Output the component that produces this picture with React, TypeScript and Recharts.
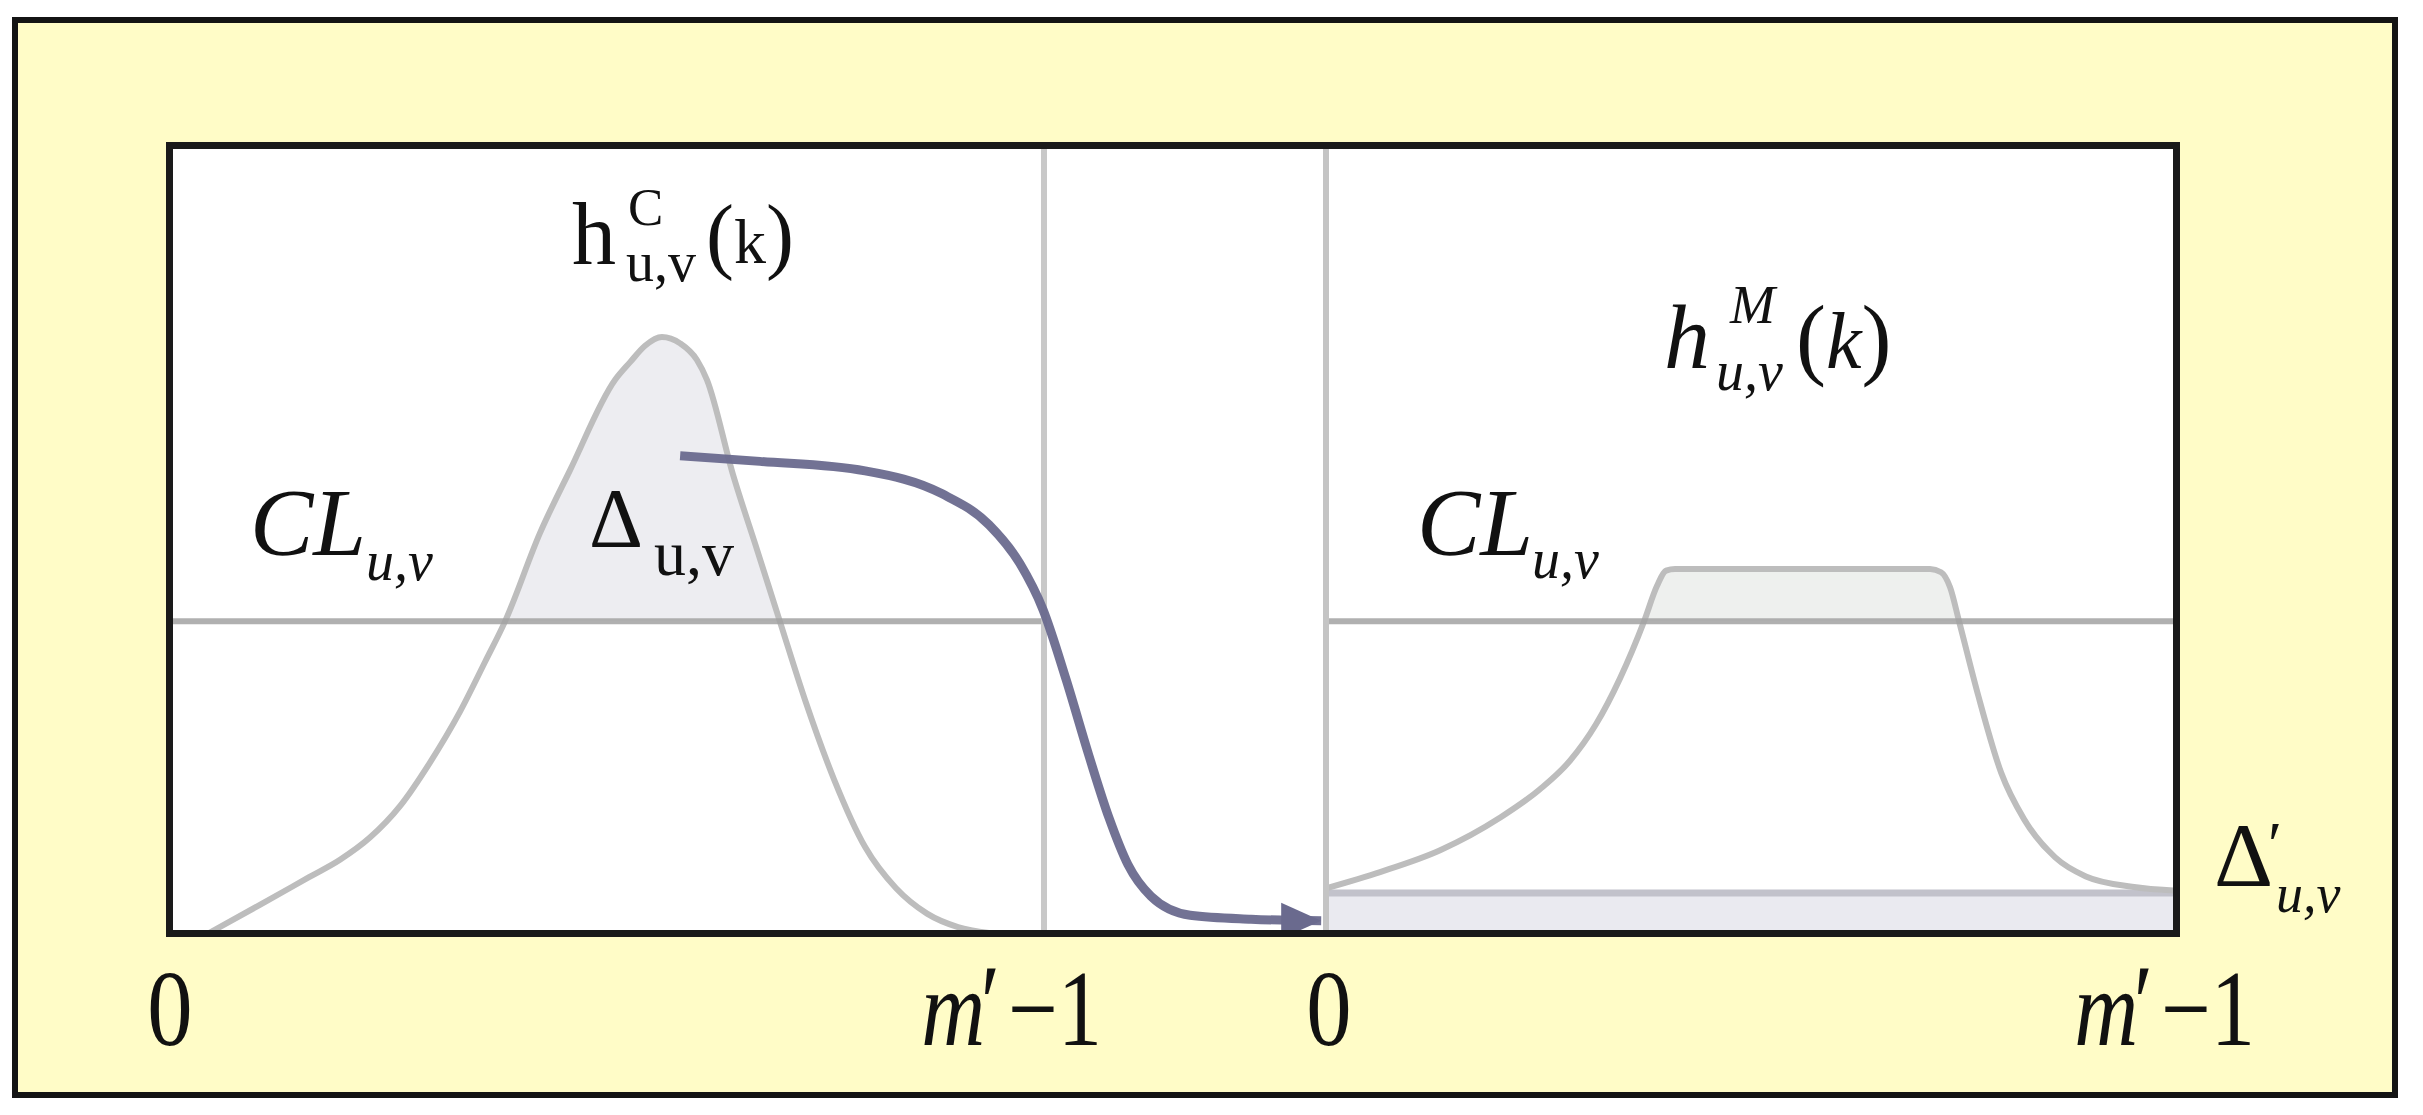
import React from 'react';
import { ComposedChart, Line, Area, XAxis, YAxis, ReferenceLine } from 'recharts';

// histogram values (k = bin index, h = height, 0..100 scale)
const CL_LEVEL = 39.6;
const BIN_MAX = 255;
const TICKS = [0, 255];
const TICK_LABELS = ['0', 'm′−1'];

const leftK = [12.2, 27.0, 41.3, 50.3, 59.0, 67.8, 76.5, 85.2, 92.5, 98.3, 108.5, 117.2, 130.3, 134.6, 139.0, 143.9, 149.2, 154.1, 157.0, 164.6, 171.6, 178.2, 185.5, 194.0, 203.0, 212.0, 221.0, 230.0, 239.0];
const leftH = [0.25, 3.8, 7.3, 9.5, 12.3, 16.3, 21.8, 28.2, 34.5, 39.6, 50.8, 58.7, 70.1, 72.3, 74.4, 75.5, 74.7, 72.6, 70.1, 58.1, 48.6, 39.6, 29.7, 19.6, 11.1, 5.9, 2.7, 1.0, 0.25];

const rightK = [0, 16.2, 34.2, 52.1, 64.1, 73.1, 80.9, 88.1, 95.3, 99.2, 101.9, 104.6, 142.0, 181.0, 184.3, 187.0, 189.7, 195.4, 202.3, 209.2, 218.5, 227.7, 241.5, 255];
const rightH = [5.9, 7.95, 10.7, 14.8, 18.4, 22.0, 26.6, 32.4, 39.6, 44.1, 46.0, 46.2, 46.2, 46.2, 45.8, 43.9, 39.6, 30.3, 20.5, 14.6, 9.8, 7.4, 6.1, 5.6];

const spreadK = [0, 255];
const spreadH = [5.3, 5.3];

// arrow path, in the left panel's units
const arrowK = [149.2, 172.4, 203.0, 225.4, 239.0, 248.0, 254.7, 261.4, 268.1, 273.9, 279.4, 286.1, 297.5, 315.2, 335.6];
const arrowH = [60.5, 59.8, 58.6, 55.7, 51.8, 46.9, 41.1, 32.3, 22.6, 14.8, 8.9, 4.9, 2.5, 2.0, 1.8];

const toPts = (ks: number[], hs: number[]) => ks.map((k, i) => ({ k, h: hs[i] }));
const excess = (pts: { k: number; h: number }[]) =>
  pts.filter((p) => p.h >= CL_LEVEL).map((p) => ({ k: p.k, band: [CL_LEVEL, p.h] }));

const leftCurve = toPts(leftK, leftH);
const rightCurve = toPts(rightK, rightH);
const spread = toPts(spreadK, spreadH);
const arrowPts = toPts(arrowK, arrowH);

const SERIF = '"Liberation Serif", "Times New Roman", serif';
const INK = '#111';
const CURVE = '#bdbdbd';
const LINE_GRAY = '#a2a2a2';
const FILL = '#ededf1';
const ARROW = '#6a6a8e';

const PLOT_H = 792;
const AXIS_H = 125;

const AxisTick = ({ x, y, payload, shift }: any) => {
  const idx = TICKS.indexOf(payload.value);
  const label = TICK_LABELS[idx];
  if (idx === 0) {
    return (
      <text transform={`translate(${x + 3},${y + 110}) scale(0.84,1)`} textAnchor="middle" fontSize={108} fontFamily={SERIF} fill={INK}>
        {label}
      </text>
    );
  }
  return (
    <text transform={`translate(${x + shift},${y + 110}) scale(0.82,1)`} textAnchor="end" fontSize={108} fontFamily={SERIF} fill={INK}>
      <tspan fontStyle="italic">m</tspan>
      <tspan dx={-12} dy={-6} fontStyle="italic">′</tspan>
      <tspan dx={16} dy={6}>−1</tspan>
    </text>
  );
};

const ArrowDot = (props: any) => {
  const { cx, cy, index } = props;
  if (index !== arrowPts.length - 1) return <g key={`d${index}`} />;
  return <polygon key={`d${index}`} points={`${cx},${cy} ${cx - 40},${cy - 18} ${cx - 40},${cy + 18}`} fill={ARROW} />;
};

const Sub = ({ x, y, size, italic, children }: any) => (
  <text x={x} y={y} fontSize={size} fontFamily={SERIF} fontStyle={italic ? 'italic' : 'normal'} fill={INK}>
    {children}
  </text>
);

const Labels = () => (
  <svg width={2423} height={1115} style={{ position: 'absolute', left: 0, top: 0, pointerEvents: 'none' }}>
    {/* h^C_{u,v}(k) */}
    <Sub x={572} y={264} size={88}>h</Sub>
    <Sub x={628} y={225} size={53}>C</Sub>
    <Sub x={626} y={281} size={56}>u,v</Sub>
    <text x={706} y={263} fontSize={84} fontFamily={SERIF} fill={INK}>
      (<tspan fontSize={64}>k</tspan>)
    </text>

    {/* h^M_{u,v}(k) */}
    <Sub x={1664} y={368} size={92} italic>h</Sub>
    <Sub x={1730} y={323} size={54} italic>M</Sub>
    <Sub x={1716} y={390} size={56} italic>u,v</Sub>
    <text x={1796} y={368} fontSize={90} fontFamily={SERIF} fill={INK}>
      (<tspan fontStyle="italic" fontSize={80}>k</tspan>)
    </text>

    {/* CL labels */}
    <Sub x={250} y={555} size={95} italic>CL</Sub>
    <Sub x={366} y={580} size={56} italic>u,v</Sub>
    <Sub x={1417} y={555} size={95} italic>CL</Sub>
    <Sub x={1532} y={578} size={56} italic>u,v</Sub>

    {/* Delta labels */}
    <Sub x={589} y={547} size={84}>Δ</Sub>
    <Sub x={654} y={575} size={64}>u,v</Sub>
    <Sub x={2214} y={886} size={92}>Δ</Sub>
    <Sub x={2268} y={866} size={64}>′</Sub>
    <Sub x={2276} y={912} size={54} italic>u,v</Sub>
  </svg>
);

export default function App() {
  return (
    <div style={{ position: 'absolute', left: 0, top: 0, width: 2423, height: 1115, background: '#fff', overflow: 'hidden' }}>
      {/* outer frame */}
      <div
        style={{
          position: 'absolute', left: 12, top: 17, width: 2386, height: 1081,
          boxSizing: 'border-box', border: '6px solid #141414', background: '#FFFCC7',
        }}
      />
      {/* white plot box */}
      <div style={{ position: 'absolute', left: 166, top: 142, width: 2014, height: 795, background: '#fff' }} />

      {/* left panel: original histogram */}
      <div style={{ position: 'absolute', left: 87, top: 143 }}>
        <ComposedChart width={1239} height={PLOT_H + AXIS_H} margin={{ top: 0, right: 0, bottom: 0, left: 80 }}>
          <XAxis
            type="number" dataKey="k" domain={[0, 337]} ticks={TICKS} interval={0} allowDataOverflow
            axisLine={false} tickLine={false} tickSize={0} tickMargin={0} height={AXIS_H}
            tick={(p: any) => <AxisTick {...p} shift={58} />}
          />
          <YAxis type="number" domain={[0, 100]} hide allowDataOverflow />
          <Area data={excess(leftCurve)} dataKey="band" type="monotone" fill={FILL} fillOpacity={1} stroke="none" isAnimationActive={false} />
          <Line data={leftCurve} dataKey="h" type="monotone" stroke={CURVE} strokeWidth={6} dot={false} isAnimationActive={false} />
          <ReferenceLine segment={[{ x: 0, y: CL_LEVEL }, { x: BIN_MAX, y: CL_LEVEL }]} stroke={LINE_GRAY} strokeWidth={6} strokeOpacity={0.85} />
          <ReferenceLine x={BIN_MAX} stroke="#c8c8c8" strokeWidth={6} />
          <Line data={arrowPts} dataKey="h" type="monotone" stroke={ARROW} strokeWidth={9} strokeOpacity={0.95} dot={ArrowDot} isAnimationActive={false} />
        </ComposedChart>
      </div>

      {/* right panel: modified histogram */}
      <div style={{ position: 'absolute', left: 1266, top: 143 }}>
        <ComposedChart width={1021} height={PLOT_H + AXIS_H} margin={{ top: 0, right: 110, bottom: 0, left: 60 }}>
          <XAxis
            type="number" dataKey="k" domain={[0, BIN_MAX]} ticks={TICKS} interval={0} allowDataOverflow
            axisLine={false} tickLine={false} tickSize={0} tickMargin={0} height={AXIS_H}
            tick={(p: any) => <AxisTick {...p} shift={78} />}
          />
          <YAxis type="number" domain={[0, 100]} hide allowDataOverflow />
          <Area data={spread} dataKey="h" type="linear" fill="#eaeaf0" fillOpacity={1} stroke="#c2c2cb" strokeWidth={7} isAnimationActive={false} />
          <Area data={excess(rightCurve)} dataKey="band" type="monotone" fill="#eef0ee" fillOpacity={1} stroke="none" isAnimationActive={false} />
          <Line data={rightCurve} dataKey="h" type="monotone" stroke={CURVE} strokeWidth={6} dot={false} isAnimationActive={false} />
          <ReferenceLine y={CL_LEVEL} stroke={LINE_GRAY} strokeWidth={6} strokeOpacity={0.85} />
          <ReferenceLine x={0} stroke="#c4c4c4" strokeWidth={6} />
        </ComposedChart>
      </div>

      {/* plot box border on top */}
      <div
        style={{
          position: 'absolute', left: 166, top: 142, width: 2014, height: 795,
          boxSizing: 'border-box', border: '7px solid #1a1a1a', pointerEvents: 'none',
        }}
      />
      <Labels />
    </div>
  );
}
